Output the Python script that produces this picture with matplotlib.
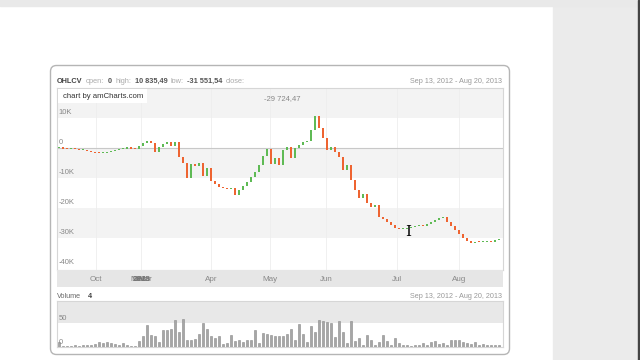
import matplotlib

matplotlib.use("Agg")
import matplotlib.pyplot as plt
import numpy as np
from matplotlib.patches import FancyBboxPatch, Rectangle
from matplotlib.text import Annotation
from matplotlib.transforms import Affine2D, blended_transform_factory

# closes (open of each candle = previous close)
closes = [
    0, -200, -300, -300, -500, -700, -600, -1000, -1300, -1600,
    -1800, -1600, -1300, -1000, -800, -500, -200, 0, -200, -300,
    700, 1700, 2300, 1600, -1300, 300, 1300, 2000, 700, 2000,
    -3000, -5000, -10000, -5300, -6000, -5000, -9300, -6700, -11000, -12000,
    -13000, -13300, -13700, -13300, -15700, -14000, -12700, -11300, -9700, -8000,
    -5700, -2700, -300, -5300, -3300, -5700, -700, 300, -3300, 0,
    1000, 2000, 2300, 6000, 10800, 6700, 3300, -700, 300, -1300,
    -3000, -7300, -5700, -10700, -14000, -16700, -15300, -18300, -19700, -19000,
    -23000, -23700, -24700, -25700, -26700, -27000, -27000, -26700, -26300, -26000,
    -25800, -26000, -25300, -24700, -24000, -23300, -23000, -24700, -26000, -27300,
    -28700, -30000, -31000, -31700, -31300, -31500, -31300, -31000, -31300, -30700,
    -30300,
]
first_open = 0
volumes = [
    10, 3, 3, 3, 4, 3, 4, 5, 5, 7,
    11, 9, 11, 8, 6, 4, 8, 4, 3, 3,
    12, 24, 46, 26, 24, 10, 35, 35, 39, 56,
    31, 60, 15, 15, 16, 28, 51, 37, 24, 20,
    24, 7, 9, 26, 13, 14, 11, 14, 15, 35,
    9, 30, 28, 25, 24, 24, 24, 28, 37, 15,
    49, 28, 11, 44, 31, 57, 54, 52, 51, 22,
    55, 31, 9, 55, 13, 19, 5, 26, 14, 5,
    10, 25, 13, 5, 18, 9, 5, 4, 3, 4,
    4, 9, 5, 10, 13, 6, 9, 5, 14, 14,
    14, 10, 9, 7, 10, 5, 7, 4, 5, 4, 5,
]
month_labels = ["Oct", "Apr", "May", "Jun", "Jul", "Aug"]
month_pos = [9.2, 38.0, 52.7, 66.8, 84.5, 100.0]
# these labels are squeezed on top of each other in the original
crowded_labels = ["Nov", "Dec", "2013", "Feb", "Mar"]
crowded_pos = [19.6, 20.2, 20.6, 21.0, 21.5]
price_ticks = [10000, 0, -10000, -20000, -30000, -40000]
price_tick_labels = ["10K", "0", "-10K", "-20K", "-30K", "-40K"]
volume_ticks = [50, 0]
header_parts = [
    ("OHLCV", "#444444", "bold"),
    ("open:", "#aaaaaa", "normal"),
    ("0", "#555555", "bold"),
    ("high:", "#aaaaaa", "normal"),
    ("10 835,49", "#555555", "bold"),
    ("low:", "#aaaaaa", "normal"),
    ("-31 551,54", "#555555", "bold"),
    ("close:", "#aaaaaa", "normal"),
]
date_range = "Sep 13, 2012 - Aug 20, 2013"
balloon_text = "-29 724,47"

UP = "#5fba55"
DOWN = "#ee6431"
plt.rcParams["font.family"] = ["Liberation Sans", "DejaVu Sans"]

fig = plt.figure(figsize=(6.4, 3.6), dpi=100)
# pixel coordinates measured from the top-left corner
px = Affine2D().scale(1 / 100, -1 / 100).translate(0, 3.6) + fig.dpi_scale_trans

fig.patches.append(Rectangle((553, 0), 87, 360, transform=px, color="#ebebeb", zorder=-3))
fig.patches.append(Rectangle((0, 0), 640, 6, transform=px, color="#e9e9e9", zorder=-3))
fig.patches.append(Rectangle((637.5, 0), 1.2, 360, transform=px, color="#444444", zorder=-3))
fig.patches.append(
    FancyBboxPatch(
        (50.5, 65.5), 459, 289,
        boxstyle="round,pad=0,rounding_size=6",
        transform=px, facecolor="white", edgecolor="#b5b5b5", linewidth=1.0, zorder=-2,
    )
)


def fx(x):
    return x / 640


def fy(y):
    return 1 - y / 360


def plain_axes(a):
    a.set_xticks([])
    a.set_yticks([])
    for s in a.spines.values():
        s.set_color("#d6d6d6")
        s.set_linewidth(0.8)


idx = np.arange(len(closes))
close = np.array(closes, dtype=float)
opens = np.concatenate(([first_open], close[:-1]))
xlim = (-0.5, 111.0)

# price panel
ax = fig.add_axes([fx(57), fy(270), fx(446), 182 / 360])
ax.set_xlim(*xlim)
ax.set_ylim(-40700, 20000)
for lo in (10000, -10000, -30000):
    ax.axhspan(lo, lo + 10000, color="#f3f3f3", zorder=0, linewidth=0)
for p in month_pos + [crowded_pos[2]]:
    ax.axvline(p, color="#eeeeee", linewidth=0.6, zorder=0)
ax.axhline(0, color="#c8c8c8", linewidth=0.8, zorder=1)
bottom = np.minimum(opens, close)
height = np.maximum(np.abs(close - opens), 400)
colors = [UP if c >= o else DOWN for o, c in zip(opens, close)]
ax.bar(idx, height, bottom=bottom, width=0.68, color=colors, linewidth=0, zorder=3)
plain_axes(ax)
ytr = blended_transform_factory(ax.transAxes, ax.transData)
for v, lab in zip(price_ticks, price_tick_labels):
    ax.text(0.003, v + 700, lab, transform=ytr, fontsize=5.5, color="#888888",
            va="bottom", ha="left")

# category axis band
axc = fig.add_axes([fx(57), fy(287), fx(446), 17 / 360])
axc.set_xlim(*xlim)
axc.set_ylim(0, 1)
axc.set_facecolor("#e6e6e6")
axc.set_xticks([])
axc.set_yticks([])
for s in axc.spines.values():
    s.set_visible(False)
for p, lab in zip(month_pos, month_labels):
    axc.text(p, 0.45, lab, fontsize=5.8, color="#888888", ha="center", va="center")
for p, lab in zip(crowded_pos, crowded_labels):
    axc.text(p, 0.45, lab, fontsize=5.8, color="#777777", ha="center", va="center",
             weight="bold" if lab == "2013" else "normal")

# volume panel
axv = fig.add_axes([fx(57), fy(347), fx(446), 46 / 360])
axv.set_xlim(*xlim)
axv.set_ylim(0, 97)
axv.axhspan(50, 100, color="#e8e8e8", zorder=0, linewidth=0)
axv.bar(idx, volumes, width=0.6, color="#a6a6a6", edgecolor="#8a8a8a",
        linewidth=0.4, zorder=3)
plain_axes(axv)
vtr = blended_transform_factory(axv.transAxes, axv.transData)
for v in volume_ticks:
    axv.text(0.003, v + 3, str(v), transform=vtr, fontsize=5.5, color="#888888",
             va="bottom", ha="left")

# header line: each piece placed right after the previous one
anchor = None
for txt, col, wt in header_parts:
    if anchor is None:
        anchor = fig.text(57, 81.5, txt, transform=px, fontsize=5.3, color=col,
                          weight=wt, va="center", ha="left")
    else:
        anchor = fig.add_artist(
            Annotation(
                txt, xy=(1, 0.5), xycoords=anchor, xytext=(3.5, 0),
                textcoords="offset pixels", fontsize=5.3, color=col, weight=wt,
                va="center", ha="left",
            )
        )
fig.text(502, 81.5, date_range, transform=px, fontsize=5.2, color="#999999",
         va="center", ha="right")
fig.text(57, 296, "Volume", transform=px, fontsize=5.2, color="#666666",
         va="center", ha="left")
fig.text(88, 296, "4", transform=px, fontsize=5.2, color="#444444", weight="bold",
         va="center", ha="left")
fig.text(502, 296, date_range, transform=px, fontsize=5.2, color="#999999",
         va="center", ha="right")
fig.text(282, 99, balloon_text, transform=px, fontsize=5.5, color="#888888",
         va="center", ha="center")

# credit box
fig.patches.append(Rectangle((58, 89), 89, 14, transform=px, facecolor="white",
                             edgecolor="none", zorder=5))
fig.text(63, 96, "chart by amCharts.com", transform=px, fontsize=5.6,
         color="#333333", va="center", ha="left", zorder=6)

# mouse cursor
fig.text(408, 232, "I", transform=px, fontsize=11, family="DejaVu Serif",
         color="black", va="center", ha="center", zorder=7)

fig.savefig("out.png", dpi=100)
